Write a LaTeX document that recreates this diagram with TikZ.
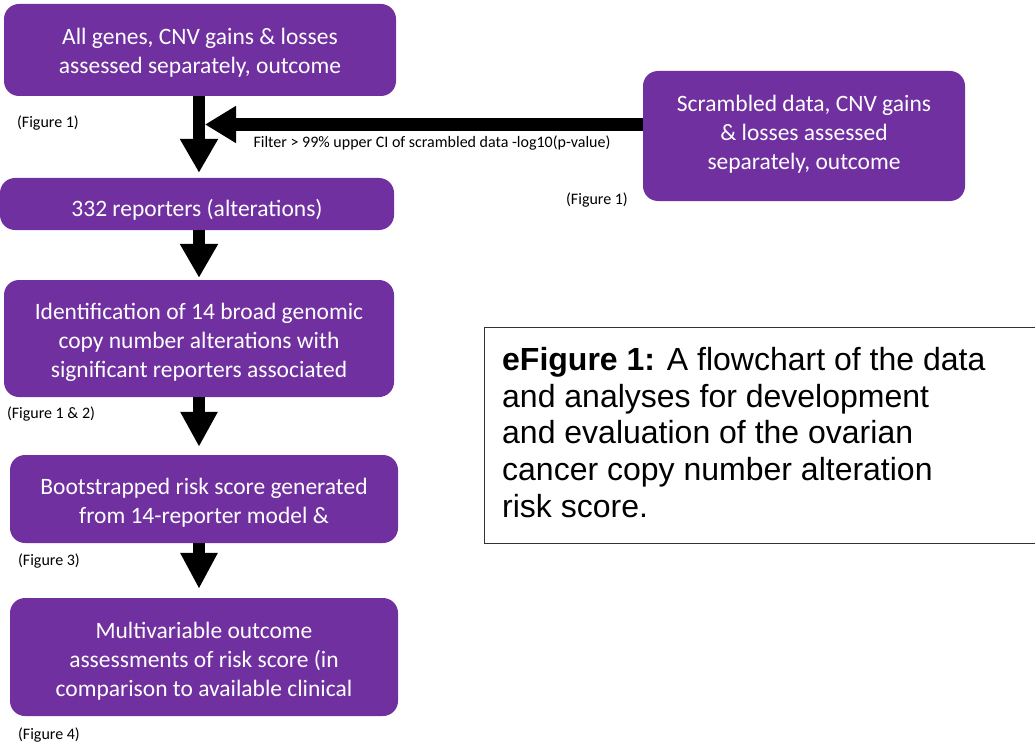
\documentclass[tikz,border=0pt]{standalone}
\usepackage{fontspec}
\setmainfont{Carlito}
\newfontfamily\arialfont{Liberation Sans}
\usetikzlibrary{arrows.meta,calc}
\definecolor{boxpurple}{HTML}{7030A0}
\begin{document}
\begin{tikzpicture}[x=1pt,y=-1pt,
  box/.style={fill=boxpurple, draw=none, rounded corners=15pt, inner sep=0pt},
  boxtext/.style={text=white, align=center, font=\fontsize{23.5}{29}\selectfont, inner sep=0pt},
  lbl/.style={font=\fontsize{16}{19}\selectfont, inner sep=0pt},
  blockarrow/.style={line width=12pt, -{Triangle[width=36pt,length=34pt]}}]
\useasboundingbox (0,0) rectangle (1035,746);

% boxes
\node[box, minimum width=392pt, minimum height=92pt] (b1) at (200,50) {};
\node[box, minimum width=322pt, minimum height=130pt] (bs) at (804,136) {};
\node[box, minimum width=394pt, minimum height=52pt] (b332) at (197,204) {};
\node[box, minimum width=390pt, minimum height=117pt] (bid) at (199,338.5) {};
\node[box, minimum width=388pt, minimum height=88pt] (bboot) at (204,499) {};
\node[box, minimum width=388pt, minimum height=118pt] (bmulti) at (204,657) {};

% box texts
\node[boxtext] (t1) at ($(b1.center)+(0,3)$)
  {All genes, CNV gains \& losses\\assessed separately, outcome};
\node[boxtext] (ts) at ($(bs.center)+(0,-2)$)
  {Scrambled data, CNV gains\\\& losses assessed\\separately, outcome};
\node[boxtext] (t332) at ($(b332.center)+(0,6)$)
  {332 reporters (alterations)};
\node[boxtext] (tid) at ($(bid.center)+(0,4)$)
  {Identification of 14 broad genomic\\copy number alterations with\\significant reporters associated};
\node[boxtext] (tboot) at ($(bboot.center)+(0,4)$)
  {Bootstrapped risk score generated\\from 14-reporter model \&};
\node[boxtext] (tmulti) at ($(bmulti.center)+(0,4)$)
  {Multivariable outcome\\assessments of risk score (in\\comparison to available clinical};

% arrows
\coordinate (ax) at (199,0);
\coordinate (j) at (205,124.5);
\draw[blockarrow, shorten >=5pt] (b1.south -| ax) -- (b332.north -| ax);
\draw[blockarrow, line width=13pt, -{Triangle[width=35pt,length=31pt]}] (bs.west |- j) -- (j);
\draw[blockarrow, shorten >=2pt] (b332.south -| ax) -- (bid.north -| ax);
\draw[blockarrow, shorten >=8pt, -{Triangle[width=35pt,length=35pt]}] (bid.south -| ax) -- (bboot.north -| ax);
\draw[blockarrow, shorten >=9pt, -{Triangle[width=35pt,length=36pt]}] (bboot.south -| ax) -- (bmulti.north -| ax);

% labels
\node[lbl] (f1) at (48,123) {(Figure 1)};
\node[lbl] (filt) at (432,143) {Filter > 99\% upper CI of scrambled data -log10(p-value)};
\node[lbl] (f1b) at (597,200) {(Figure 1)};
\node[lbl] (f12) at (51,414) {(Figure 1 \& 2)};
\node[lbl] (f3) at (49,561) {(Figure 3)};
\node[lbl] (f4) at (49,735) {(Figure 4)};

% caption
\node[draw=black!80, line width=1pt, anchor=north west, minimum width=570pt, minimum height=216pt, inner sep=0pt]
  (capbox) at (484,327) {};
\node[anchor=north west, align=left, inner sep=0pt, font=\arialfont\fontsize{32}{36.8}\selectfont]
  (cap) at (502,347)
  {\textbf{eFigure 1:} A flowchart of the data\\and analyses for development\\and evaluation of the ovarian\\cancer copy number alteration\\risk score.};
\end{tikzpicture}
\end{document}
